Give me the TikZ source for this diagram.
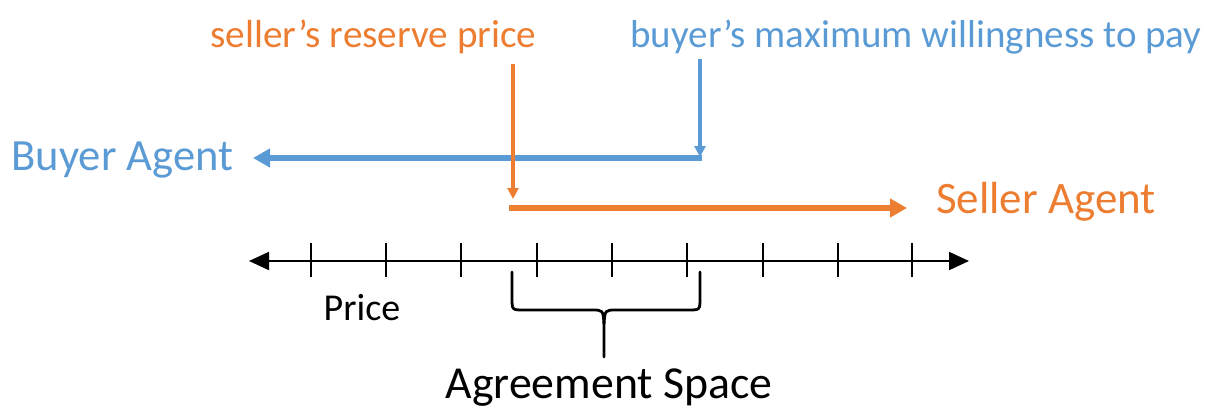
\documentclass[tikz,border=0pt]{standalone}
\usepackage{fontspec}
\setmainfont{Carlito}
\usetikzlibrary{arrows.meta}
\definecolor{ablue}{RGB}{91,155,213}
\definecolor{aorange}{RGB}{237,125,49}
\tikzset{
  lbl/.style={inner sep=0pt, anchor=base},
  bigarrow/.style={line width=6pt, -{Triangle[length=17pt,width=18pt]}},
  thinarrow/.style={line width=3.2pt, -{Triangle[length=11pt,width=11pt]}},
  axis/.style={line width=2pt, {Triangle[length=20pt,width=18pt]}-{Triangle[length=20pt,width=18pt]}},
  tick/.style={line width=1.5pt},
  brace/.style={line width=2.8pt, line cap=round, line join=round}
}
\begin{document}
\begin{tikzpicture}[x=1pt,y=-1pt]
\useasboundingbox (0,0) rectangle (1207,420);
% texts
\node[lbl, text=aorange, font=\fontsize{39.2}{41}\selectfont] (srp) at (373.5,48) {seller’s reserve price};
\node[lbl, text=ablue, font=\fontsize{39}{41}\selectfont] (bmw) at (916,48) {buyer’s maximum willingness to pay};
\node[lbl, text=ablue, font=\fontsize{44.6}{46}\selectfont] (buyer) at (122.5,170) {Buyer Agent};
\node[lbl, text=aorange, font=\fontsize{45}{47}\selectfont] (seller) at (1046,213) {Seller Agent};
\node[lbl, font=\fontsize{38}{40}\selectfont] (price) at (362,320) {Price};
\node[lbl, font=\fontsize{45.8}{48}\selectfont] (agree) at (609,398) {Agreement Space};
% coordinates
\coordinate (bvtop) at (700,59);
\coordinate (bvbot) at (700,157);
\coordinate (bhr) at (701.5,158);
\coordinate (bhl) at (253,158);
\coordinate (ovtop) at (513,64);
\coordinate (ovbot) at (513,199);
\coordinate (ohl) at (509,208);
\coordinate (ohr) at (907,208);
\coordinate (axl) at (249,261);
\coordinate (axr) at (969,261);
% arrows
\draw[bigarrow, ablue] (bhr) -- (bhl);
\draw[thinarrow, ablue] (bvtop) -- (bvbot);
\draw[bigarrow, aorange] (ohl) -- (ohr);
\draw[thinarrow, aorange] (ovtop) -- (ovbot);
% number line
\draw[axis] (axl) -- (axr);
\foreach \x in {311,386,461,537,612,687,763,838,912}
  \draw[tick] (\x,243) -- (\x,277);
% brace
\draw[brace] (512,272) -- (512,298) .. controls (512,310) .. (524,310) -- (592,310)
  .. controls (603,310) .. (604,324) -- (604,357);
\draw[brace] (604,324) .. controls (605,310) .. (616,310) -- (688,310)
  .. controls (700,310) .. (700,298) -- (700,272);
\end{tikzpicture}
\end{document}
